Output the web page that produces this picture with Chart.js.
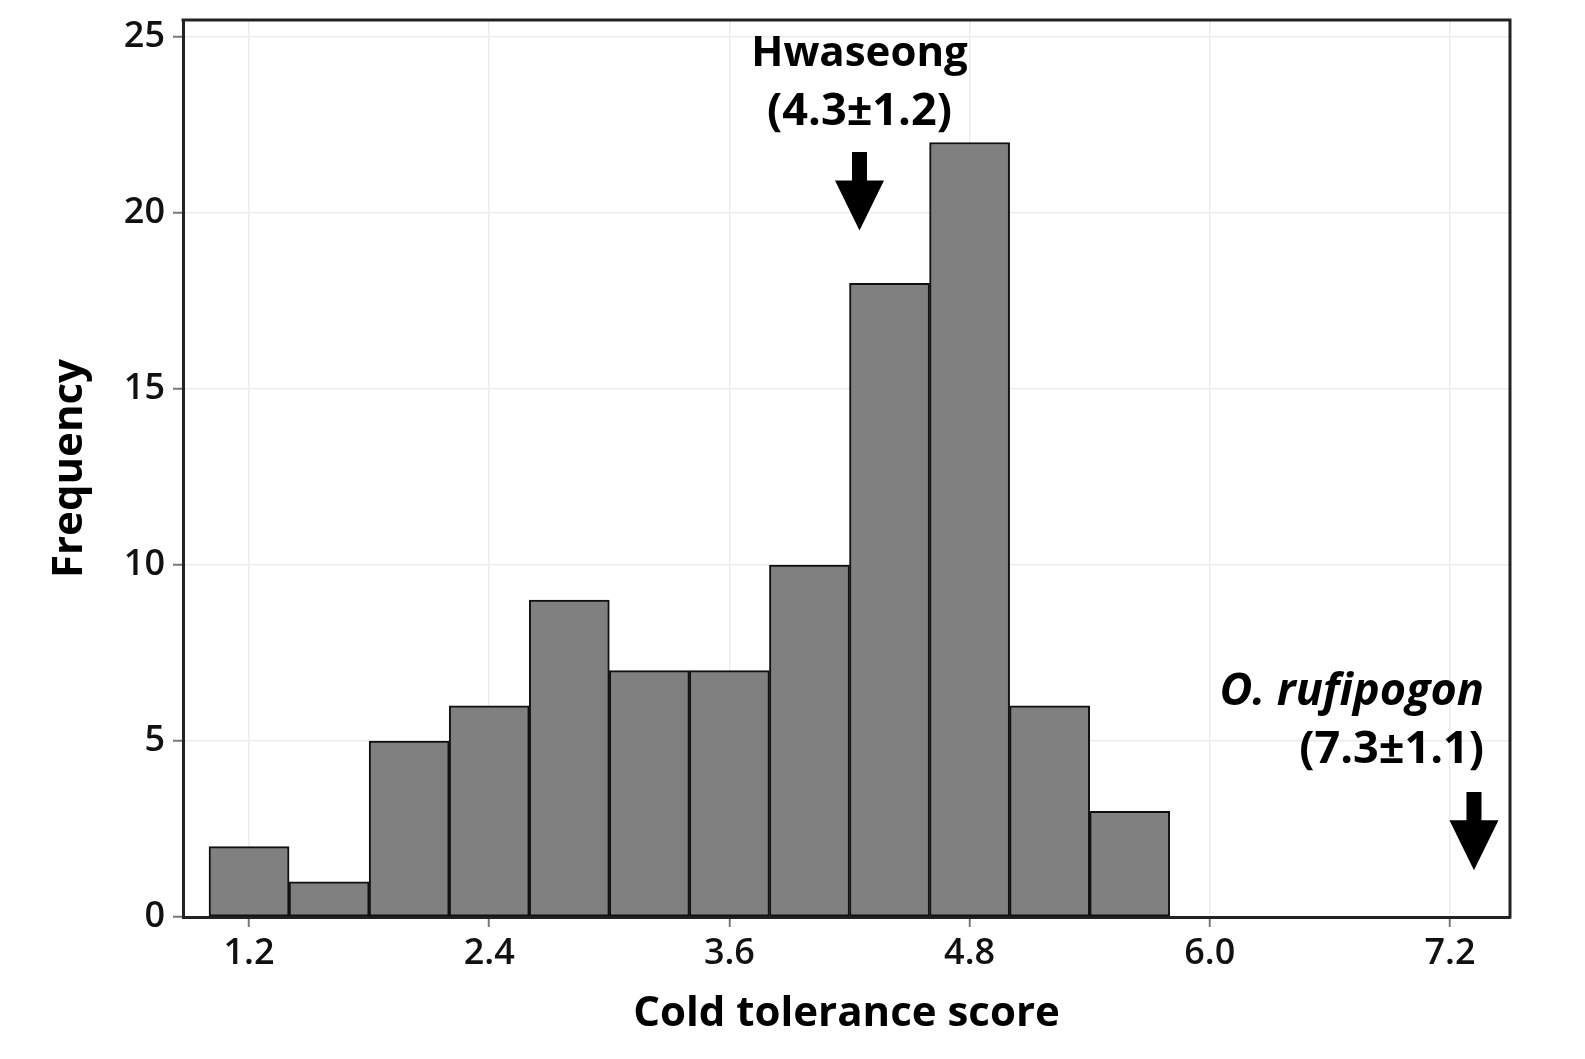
<!DOCTYPE html>
<html>
<head>
<meta charset="utf-8">
<script src="https://cdn.jsdelivr.net/npm/chart.js@4.4.1/dist/chart.umd.min.js"></script>
<style>
  html, body { margin: 0; padding: 0; background: #ffffff; }
  #wrap { width: 1585px; height: 1059px; }
</style>
</head>
<body>
<div id="wrap"><canvas id="c" width="1585" height="1059"></canvas></div>
<script>
// ---- data ----
const binCenters = [1.2, 1.6, 2.0, 2.4, 2.8, 3.2, 3.6, 4.0, 4.4, 4.8, 5.2, 5.6];
const frequencies = [2, 1, 5, 6, 9, 7, 7, 10, 18, 22, 6, 3];
const xTickValues = [1.2, 2.4, 3.6, 4.8, 6.0, 7.2];
const yTickValues = [0, 5, 10, 15, 20, 25];
const xTitle = 'Cold tolerance score';
const yTitle = 'Frequency';
const hwaseongLines = ['Hwaseong', '(4.3±1.2)'];
const hwaseongScore = 4.25;
const rufipogonLines = ['O. rufipogon', '(7.3±1.1)'];
const rufipogonScore = 7.32;

const FONT = '"Open Sans", sans-serif';
const TICKFONT = '"Open Sans", sans-serif';

function drawArrow(ctx, x, yTop, yTip) {
  const shaftW = 15, headW = 49, headH = 50;
  ctx.save();
  ctx.fillStyle = '#000';
  ctx.beginPath();
  ctx.moveTo(x - shaftW / 2, yTop);
  ctx.lineTo(x + shaftW / 2, yTop);
  ctx.lineTo(x + shaftW / 2, yTip - headH);
  ctx.lineTo(x + headW / 2, yTip - headH);
  ctx.lineTo(x, yTip);
  ctx.lineTo(x - headW / 2, yTip - headH);
  ctx.lineTo(x - shaftW / 2, yTip - headH);
  ctx.closePath();
  ctx.fill();
  ctx.restore();
}

const annotationPlugin = {
  id: 'annot',
  afterDatasetsDraw(chart) {
    const ctx = chart.ctx;
    const xs = chart.scales.x;
    const ys = chart.scales.y;
    const ca = chart.chartArea;
    // frame top and right
    ctx.save();
    ctx.strokeStyle = '#222';
    ctx.lineWidth = 3;
    ctx.beginPath();
    ctx.moveTo(ca.left - 1.5, ca.top);
    ctx.lineTo(ca.right, ca.top);
    ctx.lineTo(ca.right, ca.bottom + 1.5);
    ctx.stroke();
    ctx.restore();

    // Hwaseong
    const hx = xs.getPixelForValue(hwaseongScore);
    ctx.save();
    ctx.fillStyle = '#000';
    ctx.font = 'bold 42px ' + FONT;
    ctx.textAlign = 'center';
    ctx.textBaseline = 'alphabetic';
    ctx.fillText(hwaseongLines[0], hx, ys.getPixelForValue(24.16));
    ctx.font = 'bold 45px ' + FONT;
    ctx.fillText(hwaseongLines[1], hx, ys.getPixelForValue(22.5));
    ctx.restore();
    drawArrow(ctx, hx, ys.getPixelForValue(21.73), ys.getPixelForValue(19.5));

    // O. rufipogon
    const rx = xs.getPixelForValue(rufipogonScore);
    ctx.save();
    ctx.fillStyle = '#000';
    ctx.textAlign = 'right';
    ctx.textBaseline = 'alphabetic';
    ctx.font = 'italic bold 45px ' + FONT;
    ctx.fillText(rufipogonLines[0], rx + 10, ys.getPixelForValue(6.02));
    ctx.font = 'bold 45px ' + FONT;
    ctx.fillText(rufipogonLines[1], rx + 10, ys.getPixelForValue(4.37));
    ctx.restore();
    drawArrow(ctx, rx, ys.getPixelForValue(3.55), ys.getPixelForValue(1.33));
  }
};

new Chart(document.getElementById('c'), {
  type: 'bar',
  data: {
    datasets: [{
      data: binCenters.map((x, i) => ({ x: x, y: frequencies[i] })),
      backgroundColor: '#808080',
      borderColor: '#111',
      borderWidth: 2,
      borderSkipped: false,
      barPercentage: 1.0,
      categoryPercentage: 1.0
    }]
  },
  options: {
    responsive: false,
    animation: false,
    layout: { padding: { top: 20, right: 75, left: 0, bottom: 0 } },
    plugins: { legend: { display: false }, tooltip: { enabled: false } },
    scales: {
      x: {
        type: 'linear',
        offset: false,
        min: 0.87,
        max: 7.5,
        afterBuildTicks: (s) => { s.ticks = xTickValues.map(v => ({ value: v })); },
        afterFit: (s) => { s.height = 142; s.paddingLeft = 0; s.paddingRight = 0; },
        ticks: {
          callback: (v) => Number(v).toFixed(1),
          font: { family: TICKFONT, size: 36, weight: '600' },
          color: '#111',
          padding: 5,
          maxRotation: 0,
          autoSkip: false
        },
        grid: { offset: false, color: '#ececec', lineWidth: 1.5, tickColor: '#777', tickLength: 10, tickWidth: 2 },
        border: { color: '#222', width: 3 },
        title: {
          display: true, text: xTitle,
          font: { family: FONT, size: 42, weight: 'bold' },
          color: '#000',
          padding: { top: 0, bottom: 20 }
        }
      },
      y: {
        type: 'linear',
        min: 0,
        max: 25.48,
        afterBuildTicks: (s) => { s.ticks = yTickValues.map(v => ({ value: v })); },
        afterFit: (s) => { s.width = 183; s.paddingTop = 0; s.paddingBottom = 0; },
        ticks: {
          font: { family: TICKFONT, size: 36, weight: '600' },
          color: '#111',
          padding: 8
        },
        grid: { color: '#ececec', lineWidth: 1.5, tickColor: '#777', tickLength: 10, tickWidth: 2 },
        border: { color: '#222', width: 3 },
        title: {
          display: true, text: yTitle,
          font: { family: FONT, size: 42, weight: 'bold' },
          color: '#000',
          padding: { top: 45, bottom: 0 }
        }
      }
    }
  },
  plugins: [annotationPlugin]
});
</script>
</body>
</html>
